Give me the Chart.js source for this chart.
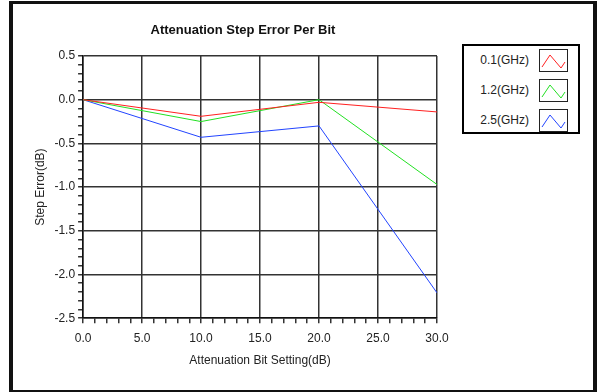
<!DOCTYPE html>
<html>
<head>
<meta charset="utf-8">
<script src="https://cdn.jsdelivr.net/npm/chart.js@4.4.1/dist/chart.umd.min.js"></script>
<style>
  html, body { margin:0; padding:0; background:#fff; }
  body { width:600px; height:392px; position:relative; overflow:hidden; font-family:"Liberation Sans", Arial, sans-serif; }
  #frame { position:absolute; left:9px; top:1px; width:580px; height:386px; border-style:solid; border-color:#111; border-width:3px 4px 2px 4px; }
  #c { position:absolute; left:14px; top:4px; }
  #title { position:absolute; left:143px; width:200px; top:22px; line-height:16px; text-align:center; font-size:13px; font-weight:bold; color:#111; white-space:nowrap; }
  #legend { position:absolute; left:462px; top:44px; width:114px; height:86px; border:2px solid #000; background:#fff; }
  .row { position:absolute; left:0; width:114px; height:24px; }
  .row span { position:absolute; right:49px; top:4px; font-size:12px; color:#222; white-space:nowrap; }
  .row svg { position:absolute; left:75px; top:0; }
</style>
</head>
<body>
<div id="frame"></div>
<canvas id="c" width="458" height="384"></canvas>
<div id="title"></div>
<div id="legend"></div>
<script>
// ---- data ----
const chartTitle = "Attenuation Step Error Per Bit";
const bitSettings = [0, 10, 20, 30];
const seriesLabels = ["0.1(GHz)", "1.2(GHz)", "2.5(GHz)"];
const err01 = [0, -0.19, -0.03, -0.14];
const err12 = [0, -0.25, 0.00, -0.97];
const err25 = [0, -0.43, -0.30, -2.21];
const seriesColors = ["#ff2020", "#22e022", "#2244ff"];
const xTickLabels = ["0.0", "5.0", "10.0", "15.0", "20.0", "25.0", "30.0"];
const yTickLabels = ["0.5", "0.0", "-0.5", "-1.0", "-1.5", "-2.0", "-2.5"];

document.getElementById("title").textContent = chartTitle;

const seriesValues = [err01, err12, err25];
const datasets = seriesValues.map((vals, i) => ({
  label: seriesLabels[i],
  data: bitSettings.map((x, j) => ({ x: x, y: vals[j] })),
  borderColor: seriesColors[i],
  backgroundColor: seriesColors[i],
  borderWidth: 1,
  pointRadius: 0,
  tension: 0,
  fill: false
}));

const gridDark = "#333333";
function isMajorX(v) { return Math.abs(Math.round(v) % 5) === 0; }
function isMajorY(v) { return Math.abs(Math.round(v * 10) % 5) === 0; }

new Chart(document.getElementById("c"), {
  type: "line",
  data: { datasets: datasets },
  options: {
    responsive: false,
    animation: false,
    layout: { padding: { left: 15, right: 35, top: 52, bottom: 14 } },
    plugins: {
      legend: { display: false },
      tooltip: { enabled: false },
      title: { display: false }
    },
    scales: {
      x: {
        type: "linear",
        min: 0, max: 30,
        ticks: {
          stepSize: 1,
          autoSkip: false,
          maxRotation: 0,
          padding: 8,
          color: "#222",
          font: { family: "'Liberation Sans', Arial, sans-serif", size: 12 },
          callback: function(v) {
            if (!isMajorX(v)) return "";
            return xTickLabels[Math.round(v) / 5];
          }
        },
        grid: {
          color: ctx => isMajorX(ctx.tick.value) ? gridDark : "rgba(0,0,0,0)",
          lineWidth: 1.5,
          tickColor: "#333",
          tickLength: 5
        },
        border: { display: true, color: "#111", width: 1.5 },
        title: {
          display: true,
          text: "Attenuation Bit Setting(dB)",
          color: "#222",
          font: { family: "'Liberation Sans', Arial, sans-serif", size: 12 },
          padding: { top: 0, bottom: 6 }
        }
      },
      y: {
        type: "linear",
        min: -2.5, max: 0.5,
        ticks: {
          stepSize: 0.1,
          autoSkip: false,
          padding: 3,
          color: "#222",
          font: { family: "'Liberation Sans', Arial, sans-serif", size: 12 },
          callback: function(v) {
            if (!isMajorY(v)) return "";
            const idx = Math.round((0.5 - v) / 0.5);
            return yTickLabels[idx];
          }
        },
        grid: {
          color: ctx => isMajorY(ctx.tick.value) ? gridDark : "rgba(0,0,0,0)",
          lineWidth: 1.5,
          tickColor: "#333",
          tickLength: 5
        },
        border: { display: true, color: "#111", width: 1.5 },
        title: {
          display: true,
          text: "Step Error(dB)",
          color: "#222",
          font: { family: "'Liberation Sans', Arial, sans-serif", size: 12 },
          padding: { top: 4, bottom: 4 }
        }
      }
    }
  }
});

// ---- HTML legend built from the series arrays ----
const legend = document.getElementById("legend");
seriesLabels.forEach((lab, i) => {
  const row = document.createElement("div");
  row.className = "row";
  row.style.top = (3 + i * 30) + "px";
  const sp = document.createElement("span");
  sp.textContent = lab;
  row.appendChild(sp);
  const ns = "http://www.w3.org/2000/svg";
  const svg = document.createElementNS(ns, "svg");
  svg.setAttribute("width", "29");
  svg.setAttribute("height", "23");
  const r = document.createElementNS(ns, "rect");
  r.setAttribute("x", "0.5"); r.setAttribute("y", "0.5");
  r.setAttribute("width", "28"); r.setAttribute("height", "22");
  r.setAttribute("fill", "#fff"); r.setAttribute("stroke", "#222");
  svg.appendChild(r);
  const pl = document.createElementNS(ns, "polyline");
  pl.setAttribute("points", "3,18 11,6 22,19 26,13");
  pl.setAttribute("fill", "none");
  pl.setAttribute("stroke", seriesColors[i]);
  pl.setAttribute("stroke-width", "1");
  svg.appendChild(pl);
  row.appendChild(svg);
  legend.appendChild(row);
});
</script>
</body>
</html>
